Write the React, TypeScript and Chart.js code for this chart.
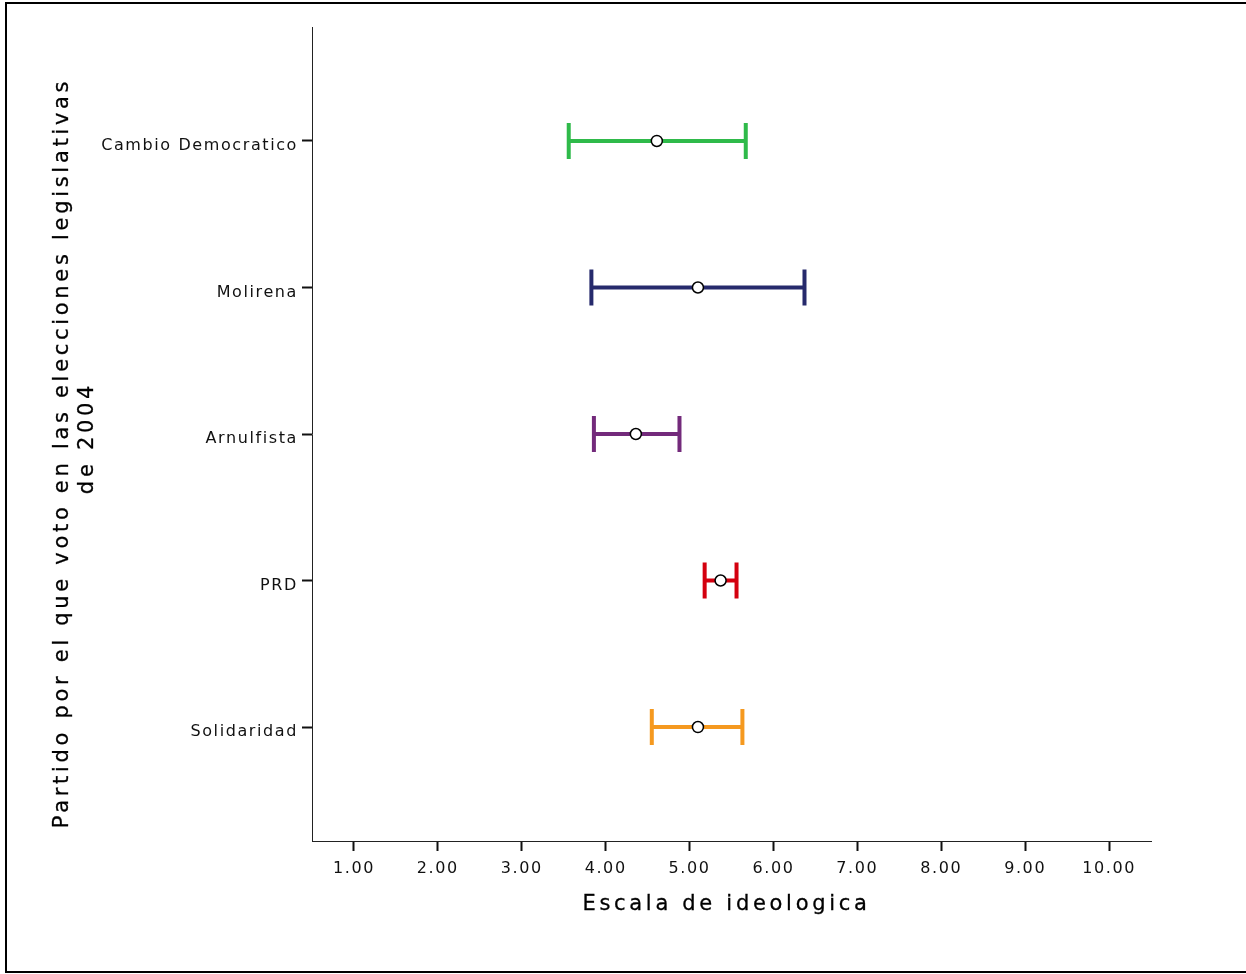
import React, { useEffect, useRef } from 'react';
import { Chart, registerables } from 'chart.js';

Chart.register(...registerables);

// ---- data ----
const categories = ['Cambio Democratico', 'Molirena', 'Arnulfista', 'PRD', 'Solidaridad'];
const means = [4.61, 5.1, 4.36, 5.37, 5.1];
const lower = [3.56, 3.83, 3.86, 5.18, 4.55];
const upper = [5.67, 6.37, 4.88, 5.56, 5.63];
const barColors = ['#2fba4a', '#262a6c', '#732a7b', '#d4000f', '#f5991f'];
const xTicks = [1, 2, 3, 4, 5, 6, 7, 8, 9, 10];
const xTitle = 'Escala de ideologica';
const yTitleLines = ['Partido por el que voto en las elecciones legislativas', 'de 2004'];

export default function App() {
  const ref = useRef<HTMLCanvasElement>(null);

  useEffect(() => {
    const canvas = ref.current!;

    const spacingPlugin = {
      id: 'spacing',
      beforeDraw(chart: any) {
        chart.ctx.letterSpacing = '1.6px';
      },
    };

    const errorBarPlugin = {
      id: 'errorBars',
      beforeDatasetsDraw(chart: any) {
        const { ctx, scales } = chart;
        const xs = scales.x;
        const ys = scales.y;
        ctx.save();
        ctx.lineCap = 'butt';
        categories.forEach((_, i) => {
          const yp = ys.getPixelForValue(i);
          const x1 = xs.getPixelForValue(lower[i]);
          const x2 = xs.getPixelForValue(upper[i]);
          ctx.strokeStyle = barColors[i];
          ctx.lineWidth = 4;
          ctx.beginPath();
          ctx.moveTo(x1, yp);
          ctx.lineTo(x2, yp);
          ctx.moveTo(x1, yp - 18);
          ctx.lineTo(x1, yp + 18);
          ctx.moveTo(x2, yp - 18);
          ctx.lineTo(x2, yp + 18);
          ctx.stroke();
        });
        ctx.restore();
      },
    };

    const setTitleStyle = (ctx: any) => {
      ctx.fillStyle = '#000';
      ctx.strokeStyle = '#000';
      ctx.lineWidth = 0.3;
      ctx.letterSpacing = '3.7px';
      ctx.font = '21px "DejaVu Sans"';
      ctx.textAlign = 'center';
      ctx.textBaseline = 'middle';
    };

    const drawText = (ctx: any, text: string, x: number, y: number, rotate: boolean) => {
      ctx.save();
      setTitleStyle(ctx);
      ctx.translate(x, y);
      if (rotate) ctx.rotate(-Math.PI / 2);
      ctx.fillText(text, 0, 0);
      ctx.strokeText(text, 0, 0);
      ctx.restore();
    };

    const titlePlugin = {
      id: 'titles',
      afterDraw(chart: any) {
        const { ctx, chartArea } = chart;
        drawText(ctx, xTitle, (chartArea.left + chartArea.right) / 2 - 5, chartArea.bottom + 64, false);
        const cy = (chartArea.top + chartArea.bottom) / 2;
        drawText(ctx, yTitleLines[0], 63, cy + 19, true);
        drawText(ctx, yTitleLines[1], 88, cy + 4, true);
      },
    };

    const tickFont = { family: 'DejaVu Sans', size: 16 };

    const chart = new Chart(canvas, {
      type: 'scatter',
      data: {
        datasets: [
          {
            data: means.map((m, i) => ({ x: m, y: i })),
            pointRadius: 5.5,
            pointHoverRadius: 5.5,
            pointBackgroundColor: '#ffffff',
            pointBorderColor: '#000000',
            pointBorderWidth: 1.5,
            showLine: false,
          },
        ],
      },
      options: {
        animation: false,
        responsive: false,
        devicePixelRatio: 1,
        layout: { padding: { top: 27, right: 95, left: 0, bottom: 0 } },
        plugins: { legend: { display: false }, tooltip: { enabled: false } },
        scales: {
          x: {
            type: 'linear',
            min: 0.5,
            max: 10.5,
            afterBuildTicks: (s: any) => {
              s.ticks = xTicks.map((v) => ({ value: v }));
            },
            afterFit: (s: any) => {
              s.height = 133;
            },
            ticks: {
              maxRotation: 0,
              autoSkip: false,
              padding: 8,
              color: '#111',
              font: tickFont,
              callback: (v: any) => Number(v).toFixed(2),
            },
            grid: {
              drawOnChartArea: false,
              drawTicks: true,
              tickLength: 10,
              tickWidth: 2,
              tickColor: '#111',
            },
            border: { display: true, color: '#222', width: 1 },
          },
          y: {
            type: 'linear',
            min: -0.778,
            max: 4.778,
            reverse: true,
            afterBuildTicks: (s: any) => {
              s.ticks = categories.map((_, i) => ({ value: i }));
            },
            afterFit: (s: any) => {
              s.width = 312;
            },
            ticks: {
              autoSkip: false,
              padding: 4,
              labelOffset: 5,
              color: '#111',
              font: tickFont,
              callback: (v: any) => categories[Number(v)] ?? '',
            },
            grid: {
              drawOnChartArea: false,
              drawTicks: true,
              tickLength: 10,
              tickWidth: 2,
              tickColor: '#111',
            },
            border: { display: true, color: '#222', width: 1 },
          },
        },
      },
      plugins: [spacingPlugin, errorBarPlugin, titlePlugin],
    } as any);

    return () => chart.destroy();
  }, []);

  return (
    <div style={{ position: 'fixed', left: 0, top: 0, width: 1246, height: 974, overflow: 'hidden', background: '#fff' }}>
      <div
        style={{
          position: 'absolute',
          left: 5,
          top: 2,
          width: 1250,
          height: 971,
          border: '2px solid #000',
          boxSizing: 'border-box',
        }}
      />
      <canvas ref={ref} width={1246} height={974} style={{ position: 'absolute', left: 0, top: 0 }} />
    </div>
  );
}
